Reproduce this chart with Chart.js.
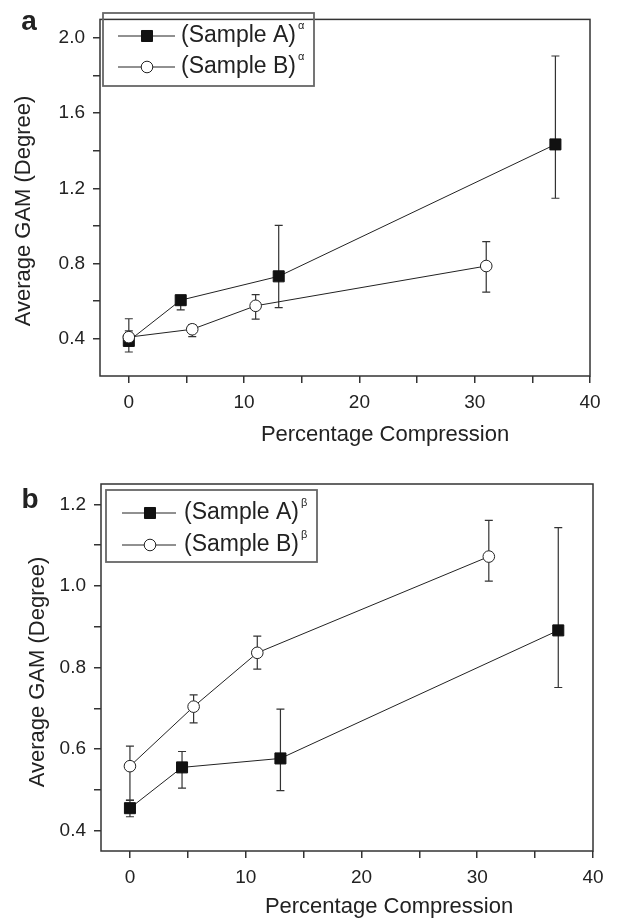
<!DOCTYPE html>
<html>
<head>
<meta charset="utf-8">
<script src="https://cdn.jsdelivr.net/npm/chart.js@4.4.1/dist/chart.umd.min.js"></script>
<style>
  body { margin: 0; background: #fff; }
  .panel { position: relative; width: 617px; height: 460px; }
</style>
</head>
<body>
<div class="panel"><canvas id="chartAlpha" width="617" height="460"></canvas></div>
<div class="panel"><canvas id="chartBeta" width="617" height="460"></canvas></div>
<script>
// --- data ---
const compressionA = [0, 4.5, 13, 37];
const compressionB = [0, 5.5, 11, 31];

// panel a (alpha)
const alphaA = [0.387, 0.604, 0.731, 1.434];
const alphaALow = [0.328, 0.552, 0.564, 1.147];
const alphaAHigh = [0.44, 0.625, 1.003, 1.905];
const alphaB = [0.407, 0.449, 0.574, 0.786];
const alphaBLow = [0.36, 0.41, 0.503, 0.647];
const alphaBHigh = [0.505, 0.474, 0.634, 0.916];

// panel b (beta)
const betaA = [0.455, 0.555, 0.577, 0.891];
const betaALow = [0.434, 0.504, 0.498, 0.751];
const betaAHigh = [0.474, 0.594, 0.698, 1.143];
const betaB = [0.558, 0.704, 0.836, 1.072];
const betaBLow = [0.475, 0.664, 0.796, 1.012];
const betaBHigh = [0.607, 0.733, 0.877, 1.161];

// ticks
const xTicks = [0, 5, 10, 15, 20, 25, 30, 35, 40];
const xLabels = [0, 10, 20, 30, 40];
const yTicksAlpha = [0.4, 0.6, 0.8, 1.0, 1.2, 1.4, 1.6, 1.8, 2.0];
const yLabelsAlpha = [0.4, 0.8, 1.2, 1.6, 2.0];
const yTicksBeta = [0.4, 0.5, 0.6, 0.7, 0.8, 0.9, 1.0, 1.1, 1.2];
const yLabelsBeta = [0.4, 0.6, 0.8, 1.0, 1.2];

const FONT = '"Liberation Sans", Arial, Helvetica, sans-serif';
const INK = '#222';
Chart.defaults.font.family = FONT;
Chart.defaults.color = INK;

const toPoints = (xs, ys) => xs.map((x, i) => ({ x: x, y: ys[i] }));
const hasValue = (list, v) => list.some(t => Math.abs(t - v) < 1e-6);

// vertical error bars with caps, drawn under the markers
const errorBars = {
    id: 'errorBars',
    beforeDatasetsDraw(chart) {
        const { ctx, scales: { x, y } } = chart;
        ctx.save();
        ctx.strokeStyle = '#333';
        ctx.lineWidth = 1.2;
        chart.data.datasets.forEach(ds => {
            ds.data.forEach((pt, i) => {
                const px = x.getPixelForValue(pt.x);
                const top = y.getPixelForValue(ds.errHigh[i]);
                const bot = y.getPixelForValue(ds.errLow[i]);
                ctx.beginPath();
                ctx.moveTo(px, top); ctx.lineTo(px, bot);
                ctx.moveTo(px - 4, top); ctx.lineTo(px + 4, top);
                ctx.moveTo(px - 4, bot); ctx.lineTo(px + 4, bot);
                ctx.stroke();
            });
        });
        ctx.restore();
    }
};

// frame, axis titles, panel letter and the boxed legend
const panelDecor = {
    id: 'panelDecor',
    afterDraw(chart, args, o) {
        const { ctx, chartArea: a } = chart;
        ctx.save();
        ctx.strokeStyle = '#333';
        ctx.lineWidth = 1.5;
        ctx.strokeRect(a.left, a.top, a.right - a.left, a.bottom - a.top);

        ctx.fillStyle = INK;
        ctx.textAlign = 'center';
        ctx.textBaseline = 'middle';
        ctx.font = '22px ' + FONT;
        ctx.fillText(o.xTitle, o.xTitlePos[0], o.xTitlePos[1]);
        ctx.save();
        ctx.translate(o.yTitlePos[0], o.yTitlePos[1]);
        ctx.rotate(-Math.PI / 2);
        ctx.fillText(o.yTitle, 0, 0);
        ctx.restore();

        ctx.font = 'bold 28px ' + FONT;
        ctx.fillText(o.letter, o.letterPos[0], o.letterPos[1]);

        // legend
        const [bx, by, bw, bh] = o.legendBox;
        ctx.strokeStyle = '#666';
        ctx.lineWidth = 1.8;
        ctx.strokeRect(bx, by, bw, bh);
        chart.data.datasets.forEach((ds, i) => {
            const ry = o.legendRows[i];
            ctx.strokeStyle = INK;
            ctx.lineWidth = 1;
            ctx.beginPath();
            ctx.moveTo(o.legendLine[0], ry);
            ctx.lineTo(o.legendLine[1], ry);
            ctx.stroke();
            ctx.fillStyle = ds.pointBackgroundColor;
            ctx.strokeStyle = ds.pointBorderColor;
            Chart.helpers.drawPoint(ctx, {
                pointStyle: ds.pointStyle, radius: ds.pointRadius,
                borderWidth: ds.pointBorderWidth, rotation: 0
            }, o.legendMarkerX, ry);
            ctx.fillStyle = INK;
            ctx.textAlign = 'left';
            ctx.font = '23px ' + FONT;
            ctx.fillText(ds.label, o.legendTextX, ry);
            const w = ctx.measureText(ds.label).width;
            ctx.font = '11px ' + FONT;
            ctx.fillText(ds.sup, o.legendTextX + w + 2, ry - 10);
        });
        ctx.restore();
    }
};

function makeDatasets(yA, lowA, highA, yB, lowB, highB, sup) {
    return [
        {
            label: '(Sample A)', sup: sup,
            data: toPoints(compressionA, yA), errLow: lowA, errHigh: highA,
            borderColor: INK, borderWidth: 1, tension: 0,
            pointStyle: 'rect', pointRadius: 7.8,
            pointBackgroundColor: '#111', pointBorderColor: '#111', pointBorderWidth: 1,
            order: 2
        },
        {
            label: '(Sample B)', sup: sup,
            data: toPoints(compressionB, yB), errLow: lowB, errHigh: highB,
            borderColor: INK, borderWidth: 1, tension: 0,
            pointStyle: 'circle', pointRadius: 5.8,
            pointBackgroundColor: '#fff', pointBorderColor: INK, pointBorderWidth: 1,
            order: 1
        }
    ];
}

function makeChart(id, datasets, yMin, yMax, yTicks, yLabels, area, decor) {
    const ctx = document.getElementById(id).getContext('2d');
    return new Chart(ctx, {
        type: 'line',
        data: { datasets: datasets },
        options: {
            responsive: false,
            animation: false,
            devicePixelRatio: 1,
            layout: { padding: { left: 0, top: area.top, right: 617 - area.right, bottom: 0 } },
            scales: {
                x: {
                    type: 'linear', min: -2.5, max: 40,
                    afterBuildTicks: axis => { axis.ticks = xTicks.map(v => ({ value: v })); },
                    afterFit: axis => { axis.height = 460 - area.bottom; },
                    ticks: {
                        font: { size: 19 }, color: INK, padding: 8, maxRotation: 0,
                        callback: v => hasValue(xLabels, v) ? String(v) : ''
                    },
                    grid: { drawOnChartArea: false, drawTicks: true, tickLength: 7, color: '#333', lineWidth: 1.5 },
                    border: { display: false }
                },
                y: {
                    type: 'linear', min: yMin, max: yMax,
                    afterBuildTicks: axis => { axis.ticks = yTicks.map(v => ({ value: v })); },
                    afterFit: axis => { axis.width = area.left; },
                    ticks: {
                        font: { size: 19 }, color: INK, padding: 8,
                        callback: v => hasValue(yLabels, v) ? v.toFixed(1) : ''
                    },
                    grid: { drawOnChartArea: false, drawTicks: true, tickLength: 7, color: '#333', lineWidth: 1.5 },
                    border: { display: false }
                }
            },
            plugins: {
                legend: { display: false },
                tooltip: { enabled: false },
                panelDecor: decor
            }
        },
        plugins: [errorBars, panelDecor]
    });
}

makeChart('chartAlpha',
    makeDatasets(alphaA, alphaALow, alphaAHigh, alphaB, alphaBLow, alphaBHigh, 'α'),
    0.2, 2.1, yTicksAlpha, yLabelsAlpha,
    { left: 100, right: 590, top: 8, bottom: 376 },
    {
        letter: 'a', letterPos: [29, 22],
        xTitle: 'Percentage Compression', xTitlePos: [385, 435],
        yTitle: 'Average GAM (Degree)', yTitlePos: [24, 211],
        legendBox: [103, 13, 211, 73], legendRows: [36, 67],
        legendLine: [118, 175], legendMarkerX: 147, legendTextX: 181
    });

makeChart('chartBeta',
    makeDatasets(betaA, betaALow, betaAHigh, betaB, betaBLow, betaBHigh, 'β'),
    0.35, 1.25, yTicksBeta, yLabelsBeta,
    { left: 101, right: 593, top: 24, bottom: 391 },
    {
        letter: 'b', letterPos: [30, 40],
        xTitle: 'Percentage Compression', xTitlePos: [389, 447],
        yTitle: 'Average GAM (Degree)', yTitlePos: [38, 212],
        legendBox: [106, 30, 211, 72], legendRows: [53, 85],
        legendLine: [122, 176], legendMarkerX: 150, legendTextX: 184
    });
</script>
</body>
</html>
